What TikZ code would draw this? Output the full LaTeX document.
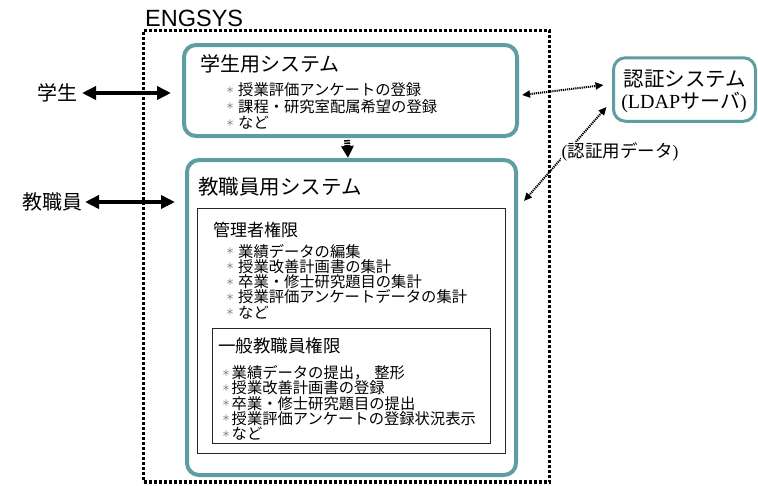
\documentclass[tikz,border=0pt]{standalone}
\usepackage{fontspec}
\usetikzlibrary{arrows.meta}
\newfontfamily\jp{Noto Sans CJK JP}
\newfontfamily\hel{Liberation Sans}
\newfontfamily\tms{Liberation Serif}
\definecolor{tealc}{RGB}{95,158,160}
\newcommand{\itm}[2]{\makebox[#1][l]{\raisebox{2.5pt}{\color{black!55}\fontsize{9}{9}\selectfont ＊}}#2}
\tikzset{
  tealbox/.style={draw=tealc, line width=4pt, rounded corners=12pt, inner sep=0pt, fill=white},
  blackbox/.style={draw=black!85, line width=0.9pt, inner sep=0pt},
  outerbox/.style={draw=black, line width=3.5pt, dash pattern=on 3pt off 2pt, inner sep=0pt},
  titletext/.style={anchor=base west, inner sep=0pt, font=\jp\fontsize{20}{20}\selectfont},
  subtitle/.style={anchor=base west, inner sep=0pt, font=\jp\fontsize{17.5}{17.5}\selectfont},
  itemtext/.style={anchor=base west, inner sep=0pt, font=\jp\fontsize{15.3}{15.3}\selectfont},
  actor/.style={anchor=east, inner sep=0pt, font=\jp\fontsize{20}{20}\selectfont},
  bigarrow/.style={line width=3.5pt, {Triangle[length=14pt,width=13pt]}-{Triangle[length=14pt,width=13pt]}},
  dotarrow/.style={line width=2pt, dash pattern=on 1.2pt off 0.9pt, {Triangle[length=8pt,width=7pt]}-{Triangle[length=8pt,width=7pt]}},
  downarrow/.style={line width=6pt, dash pattern=on 1.5pt off 1pt, -{Triangle[length=12pt,width=12pt]}}
}
\begin{document}
\begin{tikzpicture}[x=1pt,y=-1pt]
\useasboundingbox (0,0) rectangle (758,485);
\fill[white] (0,0) rectangle (758,485);

% outer ENGSYS box
\node[outerbox, minimum width=406pt, minimum height=451.5pt] (eng) at (346.5,256.25) {};
\node[anchor=base west, inner sep=0pt, font=\hel\fontsize{23.5}{23.5}\selectfont] (englabel) at (145,26) {ENGSYS};

% student system
\node[tealbox, minimum width=333pt, minimum height=91pt] (ssys) at (350.5,90.5) {};
\node[titletext] (stitle) at (200,71) {学生用システム};
\foreach \t [count=\i] in {授業評価アンケートの登録, 課程・研究室配属希望の登録, など}
  \node[itemtext] (sitem\i) at (225.5,{95.5+16.5*(\i-1)}) {\itm{12.5pt}{\t}};

% faculty system
\node[tealbox, minimum width=329pt, minimum height=315pt] (fsys) at (351.5,317.5) {};
\node[titletext, font=\jp\fontsize{20.5}{20.5}\selectfont] (ftitle) at (198,194) {教職員用システム};

% admin box
\node[blackbox, minimum width=308pt, minimum height=245pt] (adm) at (351,330.5) {};
\node[subtitle, font=\jp\fontsize{17}{17}\selectfont] (admtitle) at (213,236) {管理者権限};
\foreach \t [count=\i] in {業績データの編集, 授業改善計画書の集計, 卒業・修士研究題目の集計, 授業評価アンケートデータの集計, など}
  \node[itemtext] (aitem\i) at (225.5,{257+15.3*(\i-1)}) {\itm{12.5pt}{\t}};

% general staff box
\node[blackbox, minimum width=278pt, minimum height=115pt] (gen) at (351,385.5) {};
\node[subtitle] (gentitle) at (218,352) {一般教職員権限};
\foreach \t [count=\i] in {業績データの提出，\hspace{5pt}整形, 授業改善計画書の登録, 卒業・修士研究題目の提出, 授業評価アンケートの登録状況表示, など}
  \node[itemtext] (gitem\i) at (221.5,{378.5+15.25*(\i-1)}) {\itm{10pt}{\t}};

% auth system
\node[draw=tealc, line width=3pt, rounded corners=12pt, inner sep=0pt, minimum width=142pt, minimum height=63.5pt] (auth) at (684.5,89.5) {};
\node[anchor=base, inner sep=0pt, font=\jp\fontsize{20.5}{20.5}\selectfont] (auth1) at (685,86) {認証システム};
\node[anchor=base, inner sep=0pt, font=\jp\fontsize{20}{20}\selectfont] (auth2) at (684,108) {{\tms (LDAP}サーバ{\tms )}};

% actors
\node[actor] (stu) at (78,93) {学生};
\node[actor] (fac) at (83,202) {教職員};

% arrows
\draw[bigarrow] ([xshift=4pt]stu.east) -- ([xshift=-11pt]stu.east -| ssys.west);
\draw[bigarrow] ([xshift=2pt]fac.east) -- ([xshift=-10pt]fac.east -| fsys.west);
\draw[downarrow, shorten <=2pt] ([xshift=-3.5pt]ssys.south) -- ([xshift=-3.5pt]fsys.north);
\draw[dotarrow] ([shift={(3pt,-4.5pt)}]ssys.east) -- ([shift={(-8.5pt,4.5pt)}]auth.west);
\draw[dotarrow] ([shift={(-5.5pt,-17.5pt)}]auth.west) -- ([shift={(6pt,-43pt)}]fsys.north east);
\node[inner sep=1pt, fill=white, font=\jp\fontsize{17.5}{17.5}\selectfont] (authdata) at (620,152) {{\tms (}認証用データ{\tms )}};
\end{tikzpicture}
\end{document}
